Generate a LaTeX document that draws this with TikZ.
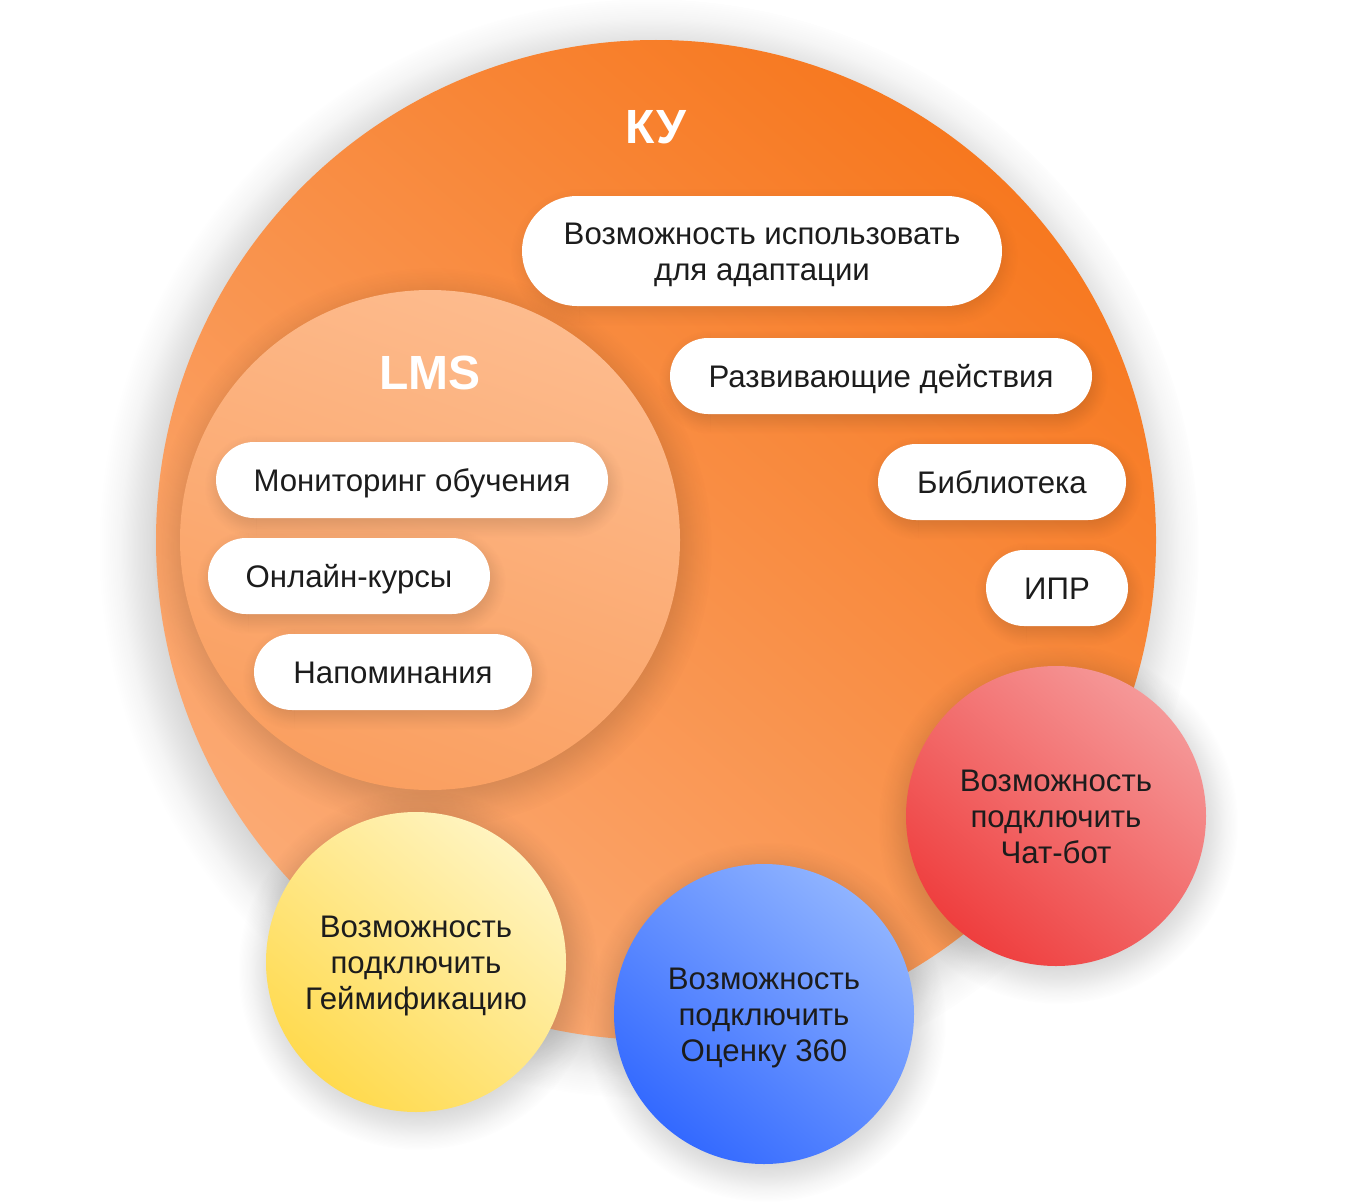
\documentclass[tikz,border=0pt]{standalone}
\usepackage{fontspec}
\setmainfont{Liberation Sans}
\usetikzlibrary{shapes.misc,fadings}
\definecolor{txt}{HTML}{1C1C1C}
\definecolor{kuDark}{HTML}{F7781F}
\definecolor{kuLight}{HTML}{FBAA74}
\definecolor{lmsTop}{HTML}{FDBB8D}
\definecolor{lmsBot}{HTML}{FA9F60}
\definecolor{chatTop}{HTML}{F59898}
\definecolor{chatBot}{HTML}{EF3E3E}
\definecolor{yelTop}{HTML}{FFF4C0}
\definecolor{yelBot}{HTML}{FFDA4E}
\definecolor{bluTop}{HTML}{8FB3FF}
\definecolor{bluBot}{HTML}{3369FF}
% soft radial fadings for circle shadows (edge of path bbox = 25bp)
\pgfdeclareradialshading{kushd}{\pgfpointorigin}{color(0bp)=(transparent!0); color(22.2bp)=(transparent!0); color(23.1bp)=(transparent!35); color(24.0bp)=(transparent!75); color(25bp)=(transparent!100); color(50bp)=(transparent!100)}
\pgfdeclarefading{kufade}{\pgfuseshading{kushd}}
\pgfdeclareradialshading{lmsshd}{\pgfpointorigin}{color(0bp)=(transparent!0); color(20.5bp)=(transparent!0); color(22.2bp)=(transparent!35); color(23.7bp)=(transparent!75); color(25bp)=(transparent!100); color(50bp)=(transparent!100)}
\pgfdeclarefading{lmsfade}{\pgfuseshading{lmsshd}}
\pgfdeclareradialshading{smshd}{\pgfpointorigin}{color(0bp)=(transparent!0); color(19.0bp)=(transparent!0); color(21.2bp)=(transparent!35); color(23.2bp)=(transparent!75); color(25bp)=(transparent!100); color(50bp)=(transparent!100)}
\pgfdeclarefading{smfade}{\pgfuseshading{smshd}}
% pill shadow pieces
\pgfdeclareradialshading{pendshd}{\pgfpointorigin}{color(0bp)=(transparent!0); color(15.5bp)=(transparent!0); color(18.75bp)=(transparent!35); color(22bp)=(transparent!75); color(25bp)=(transparent!100); color(50bp)=(transparent!100)}
\pgfdeclarefading{pillend}{\pgfuseshading{pendshd}}
\pgfdeclareverticalshading{pmidshd}{100bp}{color(0bp)=(transparent!100); color(25bp)=(transparent!100); color(28bp)=(transparent!75); color(31.25bp)=(transparent!35); color(34.5bp)=(transparent!0); color(65.5bp)=(transparent!0); color(68.75bp)=(transparent!35); color(72bp)=(transparent!75); color(75bp)=(transparent!100); color(100bp)=(transparent!100)}
\pgfdeclarefading{pillmid}{\pgfuseshading{pmidshd}}
\newcommand\pillshadow[4]{%
  \pgfmathsetmacro\pshR{#4/2+14}%
  \pgfmathsetmacro\pshY{#2+6}%
  \pgfmathsetmacro\pshL{#1+2-#3/2+#4/2}%
  \pgfmathsetmacro\pshE{#1+2+#3/2-#4/2}%
  \fill[black, opacity=0.11, path fading=pillmid] (\pshL,{\pshY-\pshR}) rectangle (\pshE,{\pshY+\pshR});
  \begin{scope}
    \clip ({\pshL-\pshR-2},{\pshY-\pshR-2}) rectangle (\pshL,{\pshY+\pshR+2});
    \fill[black, opacity=0.11, path fading=pillend] (\pshL,\pshY) circle (\pshR);
  \end{scope}
  \begin{scope}
    \clip (\pshE,{\pshY-\pshR-2}) rectangle ({\pshE+\pshR+2},{\pshY+\pshR+2});
    \fill[black, opacity=0.11, path fading=pillend] (\pshE,\pshY) circle (\pshR);
  \end{scope}}
\newcommand\hs{\rule{0pt}{14pt}}
\tikzset{
  ball/.style={circle, inner sep=0pt, align=center, text=txt, text depth=2.8pt,
    font=\fontsize{15.6pt}{18pt}\selectfont},
  pill/.style={rounded rectangle, fill=white, inner sep=0pt, minimum height=38pt,
    align=center, text=txt, text depth=2.8pt, font=\fontsize{15.6pt}{18pt}\selectfont},
  title/.style={text=white, font=\fontsize{24pt}{28pt}\selectfont\bfseries}
}
\begin{document}
\begin{tikzpicture}[x=0.5pt,y=-0.5pt]
\useasboundingbox (0,0) rectangle (1360,1204);
% big KU circle
\fill[black, opacity=0.16, path fading=kufade] (650,548) circle (550);
\node[ball, minimum size=500pt, top color=kuDark, bottom color=kuLight, shading angle=-40] (ku) at (656,540) {};
\node[title] (kut) at (656,127) {КУ};
% LMS circle
\fill[black, opacity=0.16, path fading=lmsfade] (432,548) circle (280);
\node[ball, minimum size=250pt, top color=lmsTop, bottom color=lmsBot, shading angle=-20] (lms) at (430,540) {};
\node[title] (lmst) at (430,373) {LMS};
% pills in KU
\pillshadow{762}{251}{480}{110}
\node[pill, minimum width=240pt, minimum height=55pt] (p1) at (762,251) {\hs Возможность использовать\\для адаптации};
\pillshadow{881}{376}{422}{76}
\node[pill, minimum width=211pt] (p2) at (881,376) {\hs Развивающие действия};
\pillshadow{1002}{482}{248}{76}
\node[pill, minimum width=124pt] (p3) at (1002,482) {\hs Библиотека};
\pillshadow{1057}{588}{142}{76}
\node[pill, minimum width=71pt] (p4) at (1057,588) {\hs ИПР};
% pills in LMS
\pillshadow{412}{480}{392}{76}
\node[pill, minimum width=196pt] (p5) at (412,480) {\hs Мониторинг обучения};
\pillshadow{349}{576}{282}{76}
\node[pill, minimum width=141pt] (p6) at (349,576) {\hs Онлайн-курсы};
\pillshadow{393}{672}{278}{76}
\node[pill, minimum width=139pt] (p7) at (393,672) {\hs Напоминания};
% satellite circles
\fill[black, opacity=0.16, path fading=smfade] (1058,824) circle (180);
\node[ball, minimum size=150pt, top color=chatTop, bottom color=chatBot, shading angle=-40] (chat) at (1056,816) {\hs Возможность\\подключить\\Чат-бот};
\fill[black, opacity=0.16, path fading=smfade] (418,970) circle (180);
\node[ball, minimum size=150pt, top color=yelTop, bottom color=yelBot, shading angle=-40] (game) at (416,962) {\hs Возможность\\подключить\\Геймификацию};
\fill[black, opacity=0.16, path fading=smfade] (766,1022) circle (180);
\node[ball, minimum size=150pt, top color=bluTop, bottom color=bluBot, shading angle=-40] (eval) at (764,1014) {\hs Возможность\\подключить\\Оценку 360};
\end{tikzpicture}
\end{document}
